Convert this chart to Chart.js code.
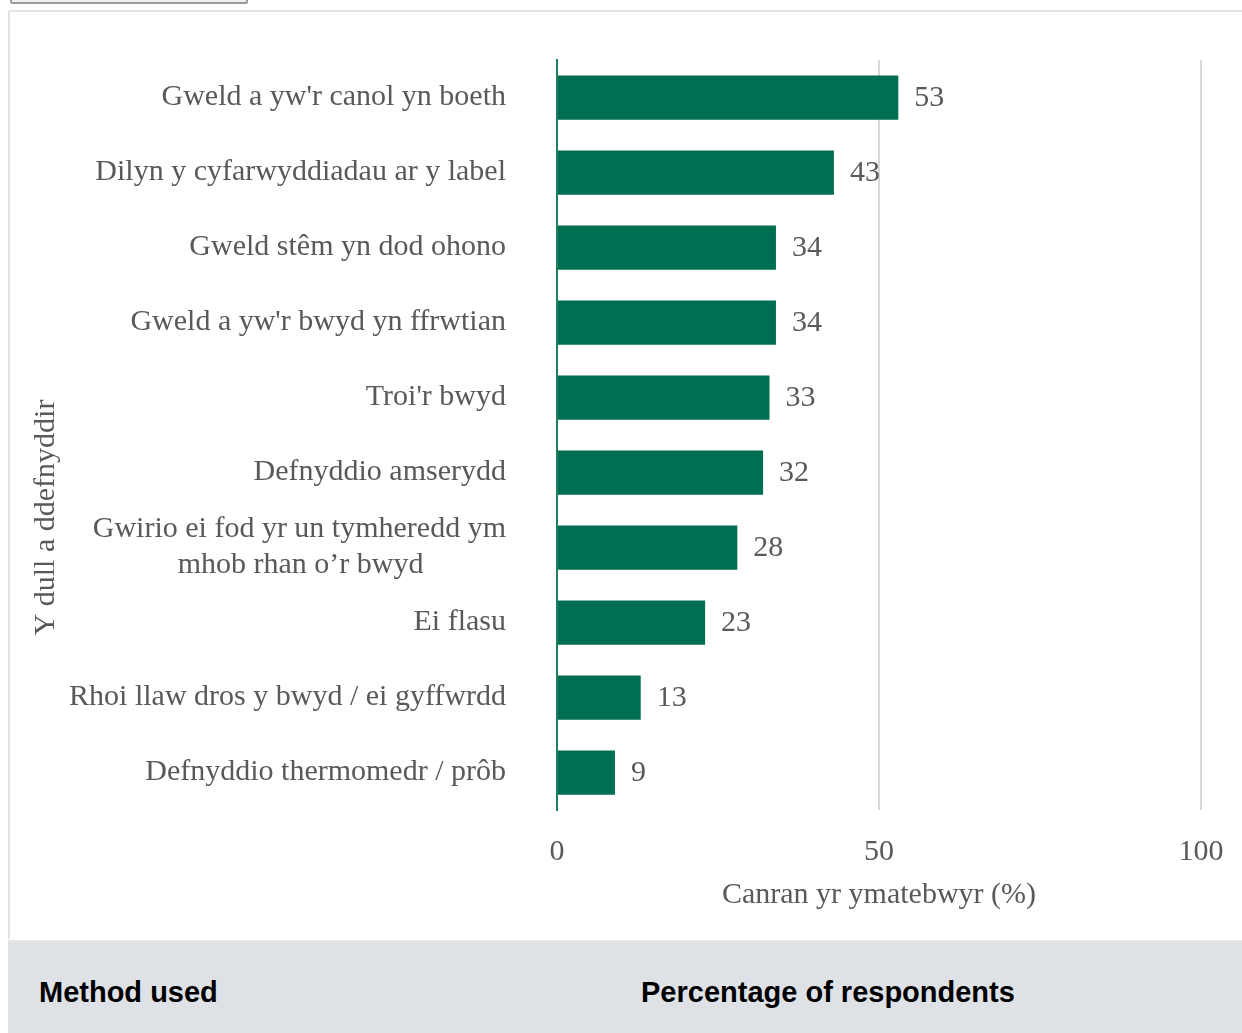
<!DOCTYPE html>
<html>
<head>
<meta charset="utf-8">
<script src="https://cdn.jsdelivr.net/npm/chart.js@4"></script>
<style>
  html, body { margin: 0; padding: 0; background: #fff; overflow: hidden; }
  body { width: 1242px; height: 1033px; position: relative; }
  .btn {
    position: absolute; left: 10px; top: -30px; width: 234px; height: 30px;
    background: #efefef; border: 2px solid #9a9a9a; border-radius: 2px;
  }
  .box {
    position: absolute; left: 8px; top: 10px; width: 1250px; height: 929px;
    border: 2px solid #e3e3e3; border-bottom: none; box-sizing: border-box;
  }
  .chart-wrap { position: absolute; left: 2px; top: 2px; width: 1232px; height: 927px; }
  .thead {
    position: absolute; left: 8px; top: 940px; width: 1250px; height: 93px;
    background: #dee2e6; border-top: 2px solid #e8e8e8;
    font-family: "Liberation Sans", Arial, sans-serif; font-weight: bold; font-size: 29px; color: #000;
  }
  .thead span { position: absolute; top: 34px; }
</style>
</head>
<body>
<div class="btn"></div>
<div class="box">
  <div class="chart-wrap"><canvas id="grafico"></canvas></div>
</div>
<div class="thead">
  <span style="left:31px">Method used</span>
  <span style="left:633px">Percentage of respondents</span>
</div>
<script>
const metodos = [
  "Gweld a yw'r canol yn boeth",
  "Dilyn y cyfarwyddiadau ar y label",
  "Gweld stêm yn dod ohono",
  "Gweld a yw'r bwyd yn ffrwtian",
  "Troi'r bwyd",
  "Defnyddio amserydd",
  ["Gwirio ei fod yr un tymheredd ym", "mhob rhan o’r bwyd\u00a0\u00a0\u00a0\u00a0\u00a0\u00a0\u00a0\u00a0\u00a0\u00a0\u00a0"],
  "Ei flasu",
  "Rhoi llaw dros y bwyd / ei gyffwrdd",
  "Defnyddio thermomedr / prôb"
];
const canrannau = [53, 43, 34, 34, 33, 32, 28, 23, 13, 9];
const ticksX = [0, 50, 100];

const fonte = "'Liberation Serif', 'Times New Roman', serif";
const cinza = "#595959";
const gwyrdd = "#006f51";

// o título do eixo y fica mais abaixo no original, por isso os espaços no fim
const tituloY = "Y dull a ddefnyddir" + "\u00a0".repeat(22);

const rotulos = {
  id: "rotulos",
  afterDatasetsDraw(chart) {
    const ctx = chart.ctx;
    const meta = chart.getDatasetMeta(0);
    ctx.save();
    ctx.font = "30px " + fonte;
    ctx.fillStyle = cinza;
    ctx.textAlign = "left";
    ctx.textBaseline = "middle";
    meta.data.forEach((bar, i) => {
      ctx.fillText(String(canrannau[i]), bar.x + 16, bar.y + 1);
    });
    ctx.restore();
  }
};

function semPadding(s) {
  s.paddingTop = 0;
  s.paddingBottom = 0;
  s.paddingLeft = 0;
  s.paddingRight = 0;
}

new Chart(document.getElementById("grafico"), {
  type: "bar",
  data: {
    labels: metodos,
    datasets: [{
      data: canrannau,
      backgroundColor: gwyrdd,
      barPercentage: 0.59,
      categoryPercentage: 1
    }]
  },
  plugins: [rotulos],
  options: {
    indexAxis: "y",
    responsive: true,
    maintainAspectRatio: false,
    animation: false,
    layout: { padding: { top: 46, right: 43, bottom: 28, left: 0 } },
    plugins: { legend: { display: false }, tooltip: { enabled: false } },
    scales: {
      x: {
        min: 0,
        max: 100,
        afterBuildTicks: (s) => { s.ticks = ticksX.map((v) => ({ value: v })); },
        afterFit: (s) => { semPadding(s); s.height = 103; },
        grid: { color: "#d9d9d9", lineWidth: 2, drawTicks: false },
        border: { display: false },
        ticks: { color: cinza, font: { family: fonte, size: 30 }, padding: 24 },
        title: {
          display: true,
          text: "Canran yr ymatebwyr (%)",
          color: cinza,
          font: { family: fonte, size: 30 },
          padding: { top: 7, bottom: 0 }
        }
      },
      y: {
        afterFit: (s) => { semPadding(s); s.width = 545; },
        grid: { display: false },
        border: { color: "#1f7d60", width: 2 },
        ticks: {
          autoSkip: false,
          color: cinza,
          font: { family: fonte, size: 30, lineHeight: 1.2 },
          padding: 43
        },
        title: {
          display: true,
          text: tituloY,
          color: cinza,
          font: { family: fonte, size: 30 },
          padding: { top: 16, bottom: 0 }
        }
      }
    }
  }
});
</script>
</body>
</html>
